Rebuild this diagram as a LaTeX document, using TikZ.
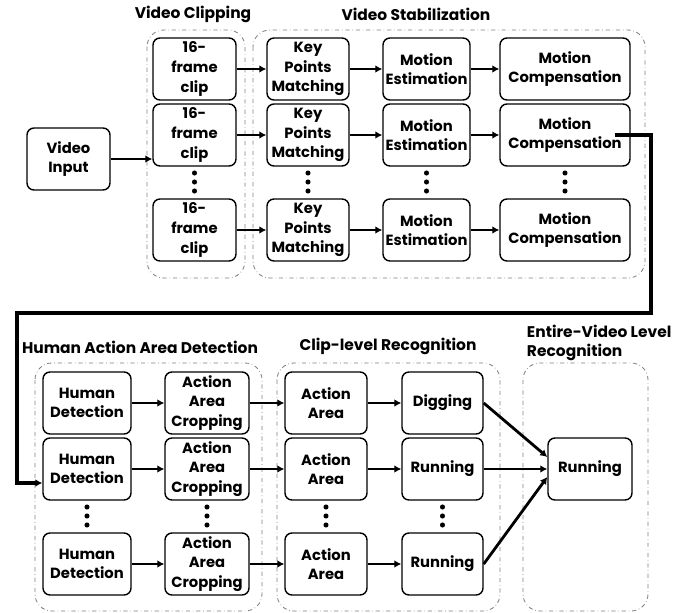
\documentclass[tikz,border=0pt]{standalone}
\usepackage{fontspec}
\setmainfont{Poppins}
\usetikzlibrary{arrows.meta,
    positioning}
\tikzset{
  stepbox/.style={rectangle, draw=black, line width=1pt, rounded corners=5pt, minimum height=1.55cm, inner sep=1pt, align=center, font=\bfseries\fontsize{10.5}{14}\selectfont},
  group/.style={draw=black!50, dash dot, line width=0.6pt, rounded corners=12pt},
  title/.style={font=\bfseries\fontsize{11}{14}\selectfont},
  flow/.style={-{Latex[length=5pt,width=5.5pt]}, line width=2pt},
  link/.style={-{Latex[length=5pt,width=5.5pt]}, line width=2.6pt},
  }

\begin{document}
\begin{tikzpicture}[x=0.025cm, y=-0.025cm]
  \useasboundingbox (0,0) rectangle (686,613);
  % group frames
  \draw[group] (147,30) rectangle (245,278);
  \draw[group] (253,30) rectangle (645,278);
  \draw[group] (35,363) rectangle (262,611);
  \draw[group] (277,363) rectangle (500,611);
  \draw[group] (523,363) rectangle (648,611);

  % titles
  \node [title] (tclip)   at (193,14)  {Video Clipping};
  \node [title] (tstab)   at (416,14)  {Video Stabilization};
  \node [title] (tdetect) at (140,347) {Human Action Area Detection};
  \node [title] (tclrec)  at (388,346) {Clip-level Recognition};
  \node [title, align=left, anchor=west] (tvidrec) at (522,343) {Entire-Video Level\\Recognition};

  % top half
  \node [stepbox, minimum width=2.075cm] (vin)   at (68.5,159) {Video\\Input};
  \node [stepbox, minimum width=2.075cm] (clip1) at (194.5,69)  {16-\\frame\\clip};
  \node [stepbox, minimum width=2.075cm] (clip2) at (194.5,135) {16-\\frame\\clip};
  \node [stepbox, minimum width=2.075cm] (clip3) at (194.5,230) {16-\\frame\\clip};
  \node [stepbox, minimum width=2.05cm]  (kpm1)  at (308,69)  {Key\\Points\\Matching};
  \node [stepbox, minimum width=2.05cm]  (kpm2)  at (308,135) {Key\\Points\\Matching};
  \node [stepbox, minimum width=2.05cm]  (kpm3)  at (308,230) {Key\\Points\\Matching};
  \node [stepbox, minimum width=2.175cm] (me1)   at (426.5,69)  {Motion\\Estimation};
  \node [stepbox, minimum width=2.175cm] (me2)   at (426.5,135) {Motion\\Estimation};
  \node [stepbox, minimum width=2.175cm] (me3)   at (426.5,230) {Motion\\Estimation};
  \node [stepbox, minimum width=3.25cm]  (mc1)   at (565,69)  {Motion\\Compensation};
  \node [stepbox, minimum width=3.25cm]  (mc2)   at (565,135) {Motion\\Compensation};
  \node [stepbox, minimum width=3.25cm]  (mc3)   at (565,230) {Motion\\Compensation};

  % bottom half
  \node [stepbox, minimum width=2.2cm]   (hd1)  at (87,403) {Human\\Detection};
  \node [stepbox, minimum width=2.2cm]   (hd2)  at (87,469) {Human\\Detection};
  \node [stepbox, minimum width=2.2cm]   (hd3)  at (87,564) {Human\\Detection};
  \node [stepbox, minimum width=2.1cm]   (aac1) at (207,403) {Action\\Area\\Cropping};
  \node [stepbox, minimum width=2.1cm]   (aac2) at (207,469) {Action\\Area\\Cropping};
  \node [stepbox, minimum width=2.1cm]   (aac3) at (207,564) {Action\\Area\\Cropping};
  \node [stepbox, minimum width=2.05cm]  (aa1)  at (326,403) {Action\\Area};
  \node [stepbox, minimum width=2.05cm]  (aa2)  at (326,469) {Action\\Area};
  \node [stepbox, minimum width=2.05cm]  (aa3)  at (326,564) {Action\\Area};
  \node [stepbox, minimum width=2.025cm] (rec1) at (442.5,403) {Digging};
  \node [stepbox, minimum width=2.025cm] (rec2) at (442.5,469) {Running};
  \node [stepbox, minimum width=2.025cm] (rec3) at (442.5,564) {Running};
  \node [stepbox, minimum width=2.1cm]   (final) at (590,469) {Running};

  % vertical dots
  \foreach \x in {194.5,308,426.5,565}
    \foreach \y in {173,182,191}
      \fill (\x,\y) circle (1.8pt);
  \foreach \x in {87,207,326,442.5}
    \foreach \y in {507,516,525}
      \fill (\x,\y) circle (1.8pt);

  % arrows
  \draw [flow] (vin.east) -- (vin.east -| clip2.west);
  \draw [flow] (clip1) -- (kpm1);
  \draw [flow] (clip2) -- (kpm2);
  \draw [flow] (clip3) -- (kpm3);
  \draw [flow] (kpm1) -- (me1);
  \draw [flow] (kpm2) -- (me2);
  \draw [flow] (kpm3) -- (me3);
  \draw [flow] (me1) -- (mc1);
  \draw [flow] (me2) -- (mc2);
  \draw [flow] (me3) -- (mc3);

  \coordinate (bendR) at (651,313);
  \coordinate (bendL) at (17,313);
  \draw [link] ([xshift=-0.4cm]mc2.east) -| (bendR) -- (bendL) |- ([yshift=-0.35cm]hd2.west);

  \draw [flow] (hd1) -- (aac1);
  \draw [flow] (hd2) -- (aac2);
  \draw [flow] (hd3) -- (aac3);
  \draw [flow] (aac1) -- (aa1);
  \draw [flow] (aac2) -- (aa2);
  \draw [flow] (aac3) -- (aa3);
  \draw [flow] (aa1) -- (rec1);
  \draw [flow] (aa2) -- (rec2);
  \draw [flow] (aa3) -- (rec3);
  \draw [flow] (rec1.east) -- ([yshift=0.3cm]final.west);
  \draw [flow] (rec2.east) -- (final.west);
  \draw [flow] (rec3.east) -- ([yshift=-0.2cm]final.west);
\end{tikzpicture}
\end{document}
